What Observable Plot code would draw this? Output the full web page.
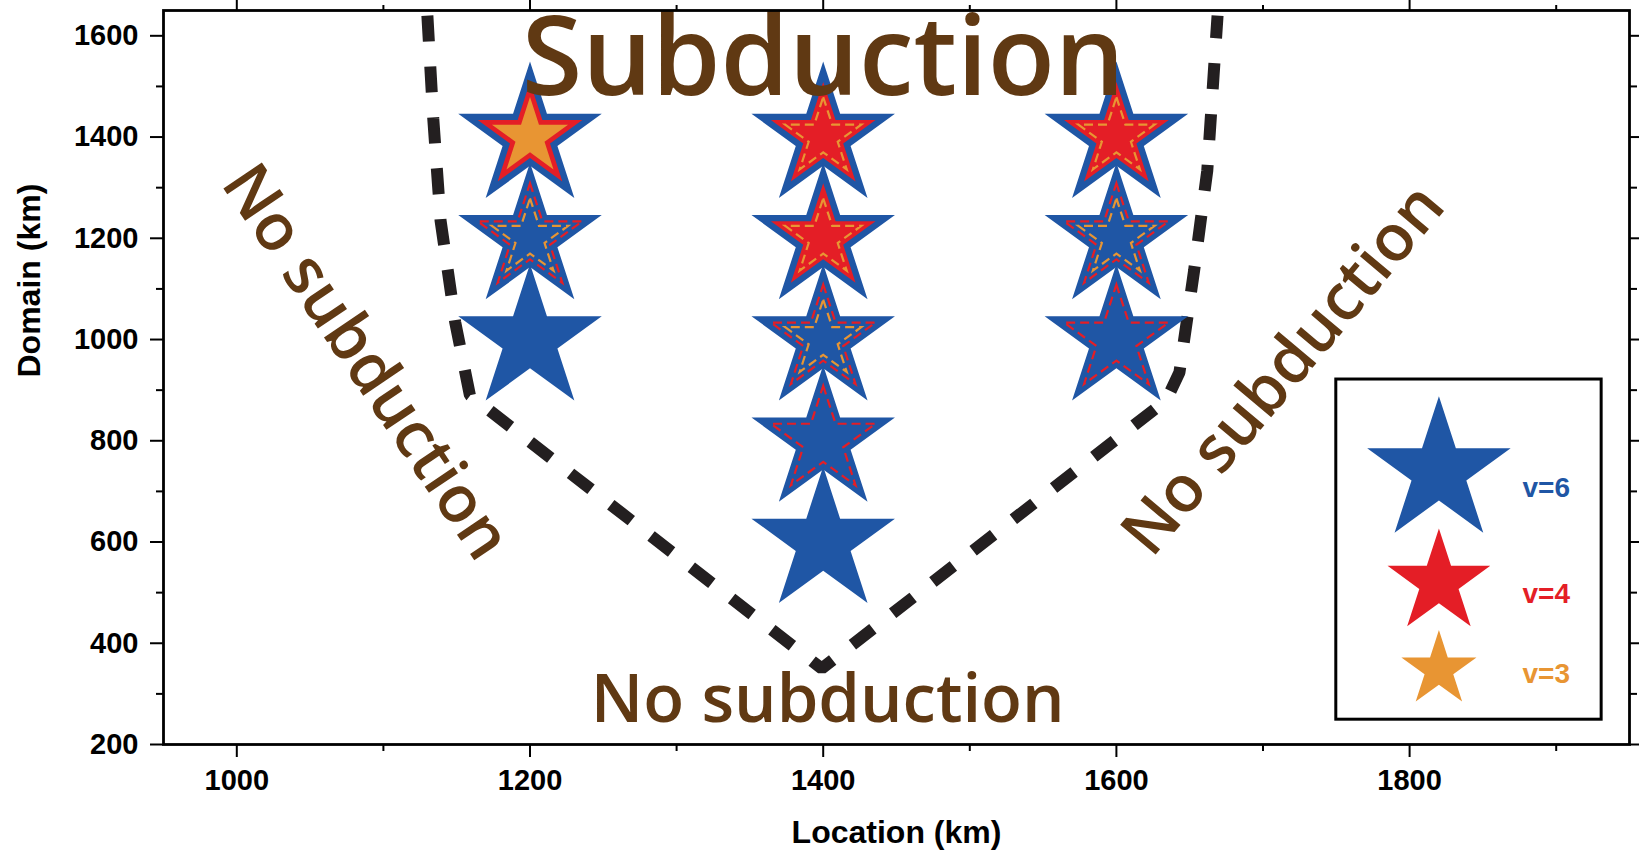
<!DOCTYPE html>
<html>
<head>
<meta charset="utf-8">
<script src="https://cdn.jsdelivr.net/npm/d3@7"></script>
<script src="https://cdn.jsdelivr.net/npm/@observablehq/plot@0.6"></script>
<style>
  html, body { margin: 0; padding: 0; background: #fff; }
  #chart { width: 1639px; height: 855px; overflow: hidden; }
</style>
</head>
<body>
<div id="chart"></div>
<script>
// ---------- data ----------
const locations = [1200, 1200, 1200, 1400, 1400, 1400, 1400, 1400, 1600, 1600, 1600];
const domains   = [1400, 1200, 1000, 1400, 1200, 1000,  800,  600, 1400, 1200, 1000];
// style of the v=4 (red) and v=3 (orange) star at each point: fill, dash or none
const v4Style = ["fill", "dash", "none", "fill", "fill", "dash", "dash", "none", "fill", "dash", "dash"];
const v3Style = ["fill", "dash", "none", "dash", "dash", "dash", "none", "none", "dash", "dash", "none"];

// dashed boundary between subduction / no subduction
const boundaryX = [1130, 1134, 1139, 1149, 1159, 1399, 1634, 1643, 1653, 1662, 1669];
const boundaryY = [1640, 1437, 1235, 1034, 890, 350, 880, 935, 1136, 1334, 1640];

// annotation labels
const labelText = ["Subduction", "No subduction", "No subduction", "No subduction"];
const labelX    = [1400, 1403, 1088, 1714];
const labelY    = [1553, 286, 955, 940];
const labelRot  = [0, 0, 56, -50];

// legend
const legendLabels = ["v=6", "v=4", "v=3"];
const legendColors = ["#1f56a5", "#e41e26", "#e89533"];
const legendStarY  = [739, 520, 348];
const legendTextY  = [706, 498, 340];
const legendStarX  = 1820;
const legendTextX  = 1877;
const legendBox    = {x1: 1750, x2: 1931, y1: 249, y2: 921};

// ticks
const xMajor = [1000, 1200, 1400, 1600, 1800];
const xMinor = [1100, 1300, 1500, 1700, 1900];
const yMajor = [200, 400, 600, 800, 1000, 1200, 1400, 1600];
const yMinor = [300, 500, 700, 900, 1100, 1300, 1500];

// ---------- build ----------
const BLUE = legendColors[0], RED = legendColors[1], ORANGE = legendColors[2];
const BROWN = "#603913";
const R6 = 45.1, R4 = 32.9, R3 = 23.9; // plot r for star symbols
const legendR = [R6, 32.3, 23.6];

const stars = locations.map((x, i) => ({x, y: domains[i], v4: v4Style[i], v3: v3Style[i]}));
const boundary = boundaryX.map((x, i) => ({x, y: boundaryY[i]}));
const labels = labelText.map((t, i) => ({t, x: labelX[i], y: labelY[i], r: labelRot[i]}));
const legend = legendLabels.map((t, i) => ({t, c: legendColors[i], sy: legendStarY[i], ty: legendTextY[i], r: legendR[i]}));

const tickFont = {fontSize: 29, fontWeight: "bold", fontFamily: "Liberation Sans, Arial, sans-serif"};
const noText = () => "";
const numFmt = d => String(d);

const chart = Plot.plot({
  width: 1639,
  height: 855,
  marginLeft: 163,
  marginRight: 10,
  marginTop: 10,
  marginBottom: 111,
  x: {domain: [950, 1950]},
  y: {domain: [200, 1650]},
  style: {background: "#fff", overflow: "visible", fontFamily: "Liberation Sans, Arial, sans-serif"},
  marks: [
    // dashed boundary
    Plot.line(boundary, {x: "x", y: "y", stroke: "#231f20", strokeWidth: 12, strokeDasharray: "26,25", strokeLinecap: "butt", strokeLinejoin: "miter"}),

    // blue (v=6) stars
    Plot.dot(stars, {x: "x", y: "y", symbol: "star", r: R6, fill: BLUE, stroke: null}),
    // red (v=4) filled
    Plot.dot(stars.filter(d => d.v4 === "fill"), {x: "x", y: "y", symbol: "star", r: R4, fill: RED, stroke: null}),
    // orange (v=3) filled
    Plot.dot(stars.filter(d => d.v3 === "fill"), {x: "x", y: "y", symbol: "star", r: R3, fill: ORANGE, stroke: null}),
    // red dashed outlines
    Plot.dot(stars.filter(d => d.v4 === "dash"), {x: "x", y: "y", symbol: "star", r: R4, fill: "none", stroke: RED, strokeWidth: 2.2, strokeDasharray: "9,5"}),
    // orange dashed outlines
    Plot.dot(stars.filter(d => d.v3 === "dash"), {x: "x", y: "y", symbol: "star", r: R3, fill: "none", stroke: ORANGE, strokeWidth: 2.2, strokeDasharray: "9,5"}),

    // annotation texts
    Plot.text(labels.slice(0, 1), {x: "x", y: "y", text: "t", fill: BROWN, fontSize: 110, fontFamily: "Open Sans", fontWeight: 600, textAnchor: "middle", lineAnchor: "middle", ariaLabel: "big-label"}),
    Plot.text(labels.slice(1, 2), {x: "x", y: "y", text: "t", fill: BROWN, fontSize: 67, fontFamily: "Open Sans", fontWeight: 600, textAnchor: "middle", lineAnchor: "middle", ariaLabel: "small-label"}),
    Plot.text(labels.slice(2), {x: "x", y: "y", text: "t", rotate: "r", fill: BROWN, fontSize: 65, fontFamily: "Open Sans", fontWeight: 600, textAnchor: "middle", lineAnchor: "middle", ariaLabel: "rot-label"}),

    // legend
    Plot.rect([legendBox], {x1: "x1", x2: "x2", y1: "y1", y2: "y2", fill: "#fff", stroke: "#000", strokeWidth: 3}),
    ...legend.map(d => Plot.dot([d], {x: () => legendStarX, y: "sy", symbol: "star", r: d.r, fill: d.c, stroke: null})),
    Plot.text(legend, {x: () => legendTextX, y: "ty", text: "t", fill: "c", textAnchor: "start", lineAnchor: "middle", fontSize: 28, fontWeight: "bold", fontFamily: "Liberation Sans, Arial, sans-serif", ariaLabel: "legend-label"}),

    // frame & axes
    Plot.frame({stroke: "#000", strokeWidth: 2.8}),
    Plot.axisX(xMajor, {anchor: "bottom", tickSize: 13, tickPadding: 12, tickFormat: numFmt, strokeWidth: 2, color: "#000", label: null, ...tickFont}),
    Plot.axisX(xMinor, {anchor: "bottom", tickSize: 7, tickFormat: noText, strokeWidth: 2, color: "#000", label: null}),
    Plot.axisX(xMajor, {anchor: "top", tickSize: 13, tickFormat: noText, strokeWidth: 2, color: "#000", label: null}),
    Plot.axisX(xMinor, {anchor: "top", tickSize: 6, tickFormat: noText, strokeWidth: 2, color: "#000", label: null}),
    Plot.axisY(yMajor, {anchor: "left", tickSize: 13, tickPadding: 12, tickFormat: numFmt, strokeWidth: 2, color: "#000", label: null, ...tickFont}),
    Plot.axisY(yMinor, {anchor: "left", tickSize: 7, tickFormat: noText, strokeWidth: 2, color: "#000", label: null}),
    Plot.axisY(yMajor, {anchor: "right", tickSize: 13, tickFormat: noText, strokeWidth: 2, color: "#000", label: null}),
    Plot.axisY(yMinor, {anchor: "right", tickSize: 7, tickFormat: noText, strokeWidth: 2, color: "#000", label: null}),

    // axis titles
    Plot.text(["Location (km)"], {frameAnchor: "bottom", dy: 88, text: d => d, fontSize: 32, fontWeight: "bold", fill: "#000", lineAnchor: "middle"}),
    Plot.text(["Domain (km)"], {frameAnchor: "left", dx: -134, rotate: -90, text: d => d, fontSize: 32, fontWeight: "bold", fill: "#000", lineAnchor: "middle"})
  ]
});

document.getElementById("chart").appendChild(chart);

// letter spacing adjustments for the annotation fonts
d3.select(chart).selectAll('g[aria-label="big-label"] text').style("letter-spacing", "5px");
d3.select(chart).selectAll('g[aria-label="small-label"] text').style("letter-spacing", "0.5px");
d3.select(chart).selectAll('g[aria-label="legend-label"] text').style("letter-spacing", "1.5px");
</script>
</body>
</html>
